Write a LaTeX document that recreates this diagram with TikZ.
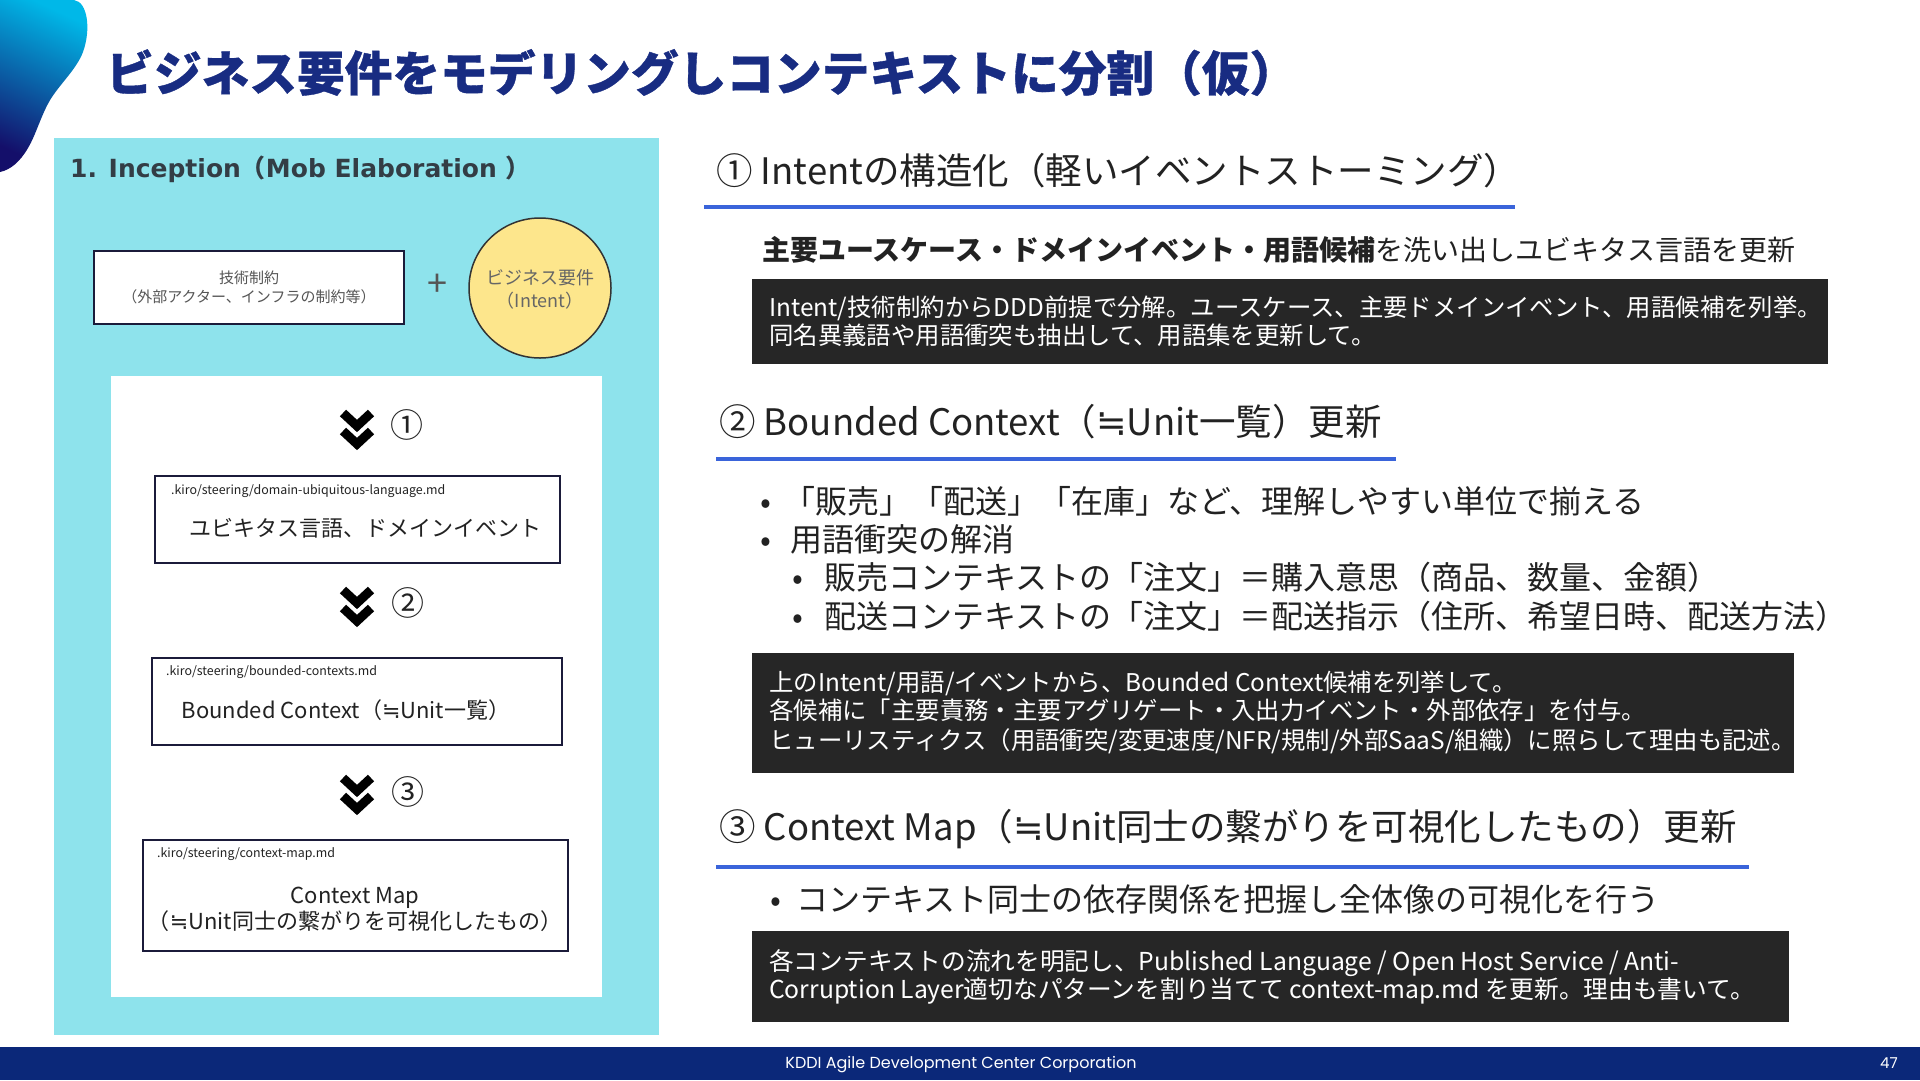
\documentclass[tikz,border=0pt]{standalone}
\usepackage{fontspec}
\setmainfont{Noto Sans CJK JP}
\newfontfamily\footfont{Poppins}
\newfontfamily\dejavufont{DejaVu Sans}
\newfontfamily\titlefont[BoldFeatures={FakeBold=0.8}]{Noto Sans CJK JP}
\newcommand\nearlyeq{{\dejavufont ≒}}
\definecolor{titleblue}{HTML}{182C82}
\definecolor{panelcyan}{HTML}{8EE3EC}
\definecolor{linkblue}{HTML}{3A64DA}
\definecolor{darkbox}{HTML}{262626}
\definecolor{intentyellow}{HTML}{FDE68C}
\definecolor{boxline}{HTML}{1B1B3A}
\definecolor{footblue}{HTML}{0B2879}
\definecolor{txt}{HTML}{222222}
\definecolor{graytxt}{HTML}{555555}
\definecolor{paneltitle}{HTML}{333D45}
\definecolor{decocyan}{HTML}{00B8E8}
\definecolor{deconavy}{HTML}{140F6A}
\newcommand\fsz[2]{\fontsize{#1}{#2}\selectfont}
\newcommand\chevron[2]{%
  \draw[chevst] ({#1-14},{#2}) -- ({#1},{#2+13}) -- ({#1+14},{#2});
  \draw[chevst] ({#1-14},{#2+18}) -- ({#1},{#2+31}) -- ({#1+14},{#2+18});}
\tikzset{
  tx/.style={inner sep=0pt, anchor=base west, text=txt},
  txc/.style={inner sep=0pt, anchor=base, text=txt},
  filebox/.style={draw=boxline, line width=2.5pt, fill=white},
  pathlbl/.style={inner sep=0pt, anchor=base west, text=txt, font=\fsz{12.4}{14}},
  mainlbl/.style={inner sep=0pt, anchor=base, text=txt, font=\fsz{22}{27}},
  chevst/.style={line width=9pt, line cap=butt, line join=miter, draw=black},
  digit/.style={inner sep=0pt, anchor=center, text=txt, font=\fsz{33}{38}},
  headtx/.style={tx, font=\fsz{36.5}{42}},
  underl/.style={fill=linkblue},
  darkrect/.style={fill=darkbox},
  boxtx/.style={tx, text=white, font=\fsz{24.4}{28}},
  bultx/.style={tx, font=\fsz{32}{36}},
}
\begin{document}
\begin{tikzpicture}[x=1pt,y=-1pt]
\useasboundingbox (0,0) rectangle (1920,1080);
\fill[white] (0,0) rectangle (1920,1080);

% decoration top-left
\shade[top color=decocyan, bottom color=deconavy, shading angle=-25]
  (0,0) -- (74,0) .. controls (88,2) and (91,30) .. (83,52)
  .. controls (77,68) and (62,82) .. (52,97)
  .. controls (42,112) and (36,135) .. (28,148)
  .. controls (20,162) and (10,170) .. (0,172) -- cycle;

% title
\node[tx, text=titleblue, font=\titlefont\fsz{47.7}{56}\bfseries] (title) at (106,91) {ビジネス要件をモデリングしコンテキストに分割（仮）};

% left panel
\fill[panelcyan] (54,138) rectangle (659,1035);
\node[tx, text=paneltitle, font=\fsz{25}{30}\bfseries] (ptitle) at (70,177) {{\dejavufont 1. Inception}（{\dejavufont Mob Elaboration }）};

\node[filebox, line width=2.5pt, minimum width=310pt, minimum height=73pt, inner sep=0pt,
      align=center, text=graytxt, font=\fsz{15}{19.5}] (tech) at (249,287.5)
      {技術制約\\（外部アクター、インフラの制約等）};
\node[inner sep=0pt, text=graytxt, font=\fsz{36}{40}] (plus) at (437,285) {+};
\draw[draw=black!80, line width=1.5pt, fill=intentyellow] (540,288) ellipse [x radius=71, y radius=70];
\node[inner sep=0pt, align=center, text=black!60, font=\fsz{18}{23}] (intent) at (540,289)
      {ビジネス要件\\（Intent）};

\fill[white] (111,376) rectangle (602,997);

% step 1
\chevron{357}{413}
\node[digit] (d1) at (407,425) {①};
\filldraw[filebox] (155,476) rectangle (560,563);
\node[pathlbl] (p1) at (171,494) {.kiro/steering/domain-ubiquitous-language.md};
\node[mainlbl] (m1) at (365,536) {ユビキタス言語、ドメインイベント};

% step 2
\chevron{357}{590}
\node[digit] (d2) at (408,603) {②};
\filldraw[filebox] (152,658) rectangle (562,745);
\node[pathlbl] (p2) at (166,675) {.kiro/steering/bounded-contexts.md};
\node[mainlbl] (m2) at (346,718) {Bounded Context（\nearlyeq Unit一覧）};

% step 3
\chevron{357}{778}
\node[digit] (d3) at (408,792) {③};
\filldraw[filebox] (143,840) rectangle (568,951);
\node[pathlbl] (p3) at (157,857) {.kiro/steering/context-map.md};
\node[mainlbl] (m3a) at (355,903) {Context Map};
\node[mainlbl] (m3b) at (355,929) {（\nearlyeq Unit同士の繋がりを可視化したもの）};

% right section 1
\node[headtx] (h1) at (716,184) {① Intentの構造化（軽いイベントストーミング）};
\fill[underl] (704,205) rectangle (1515,209);
\node[tx, font=\fsz{28}{32}] (s1) at (762,260) {{\bfseries 主要ユースケース・ドメインイベント・用語候補}を洗い出しユビキタス言語を更新};
\fill[darkrect] (752,279) rectangle (1828,364);
\node[boxtx] (t1a) at (769,316) {Intent/技術制約からDDD前提で分解。ユースケース、主要ドメインイベント、用語候補を列挙。};
\node[boxtx] (t1b) at (769,344) {同名異義語や用語衝突も抽出して、用語集を更新して。};

% right section 2
\node[headtx] (h2) at (719,435) {② Bounded Context（\nearlyeq Unit一覧）更新};
\fill[underl] (716,457) rectangle (1396,461);
\node[bultx] (b1d) at (760,513) {•};
\node[bultx] (b1) at (783,513) {「販売」「配送」「在庫」など、理解しやすい単位で揃える};
\node[bultx] (b2d) at (760,551) {•};
\node[bultx] (b2) at (790,551) {用語衝突の解消};
\node[bultx] (b3d) at (792,589) {•};
\node[bultx] (b3) at (824,589) {販売コンテキストの「注文」＝購入意思（商品、数量、金額）};
\node[bultx] (b4d) at (792,628) {•};
\node[bultx] (b4) at (824,628) {配送コンテキストの「注文」＝配送指示（住所、希望日時、配送方法）};
\fill[darkrect] (752,653) rectangle (1794,773);
\node[boxtx] (t2a) at (769,691) {上のIntent/用語/イベントから、Bounded Context候補を列挙して。};
\node[boxtx] (t2b) at (769,719) {各候補に「主要責務・主要アグリゲート・入出力イベント・外部依存」を付与。};
\node[boxtx] (t2c) at (769,749) {ヒューリスティクス（用語衝突/変更速度/NFR/規制/外部SaaS/組織）に照らして理由も記述。};

% right section 3
\node[headtx] (h3) at (719,840) {③ Context Map（\nearlyeq Unit同士の繋がりを可視化したもの）更新};
\fill[underl] (716,865) rectangle (1749,869);
\node[bultx] (b5d) at (770,911) {•};
\node[bultx] (b5) at (796,911) {コンテキスト同士の依存関係を把握し全体像の可視化を行う};
\fill[darkrect] (752,931) rectangle (1789,1022);
\node[boxtx, font=\fsz{24.7}{28}] (t3a) at (769,970) {各コンテキストの流れを明記し、Published Language / Open Host Service / Anti-};
\node[boxtx, font=\fsz{24.7}{28}] (t3b) at (769,998) {Corruption Layer適切なパターンを割り当てて context-map.md を更新。理由も書いて。};

% footer
\fill[footblue] (0,1047) rectangle (1920,1080);
\node[txc, text=white, font=\footfont\fsz{16}{19}] (foot) at (961,1068) {KDDI Agile Development Center Corporation};
\node[txc, text=white, font=\footfont\fsz{15}{19}] (page) at (1889,1068) {47};
\end{tikzpicture}
\end{document}
